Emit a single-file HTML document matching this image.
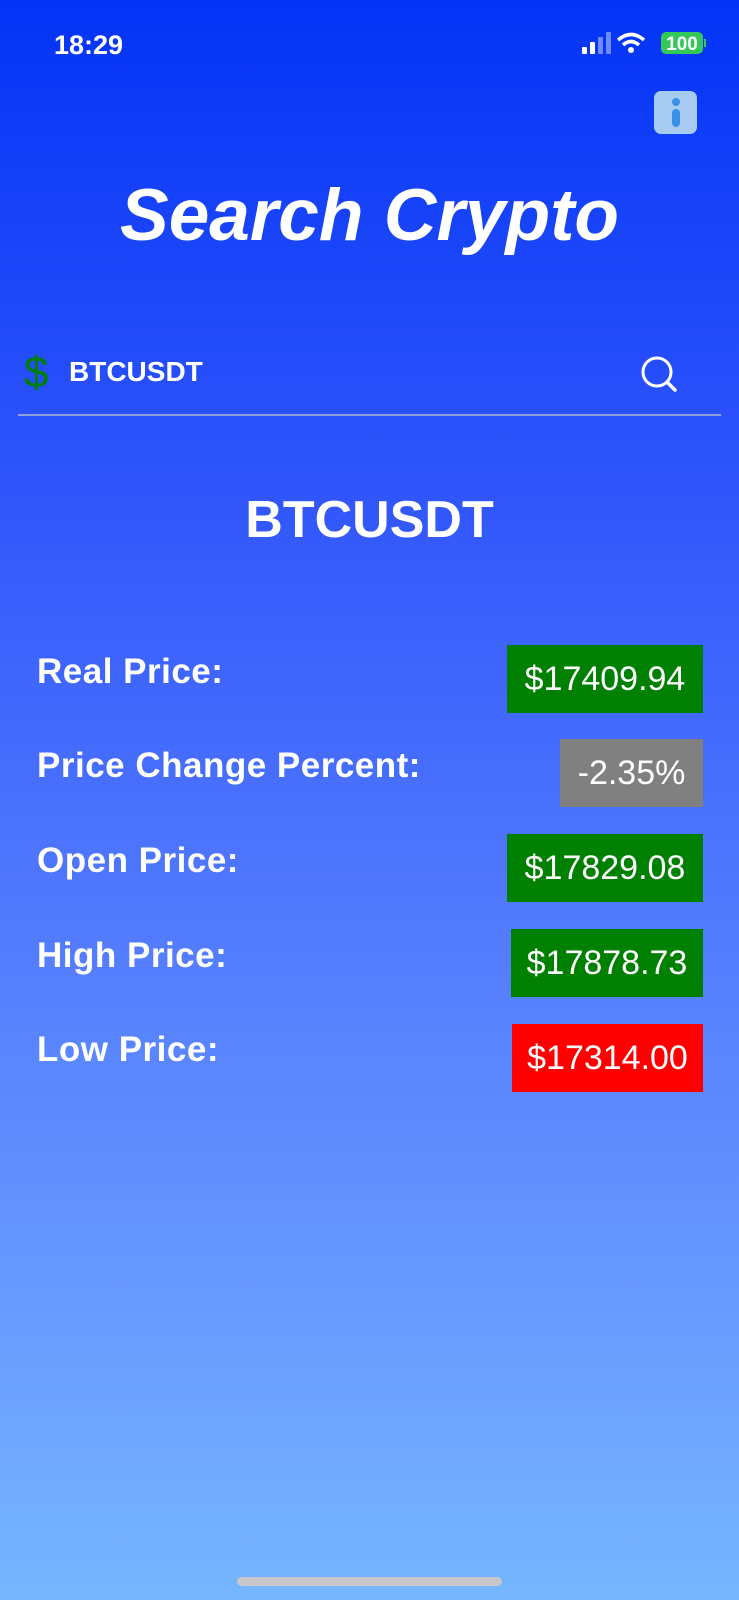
<!DOCTYPE html>
<html><head><meta charset="utf-8">
<style>
*{margin:0;padding:0;box-sizing:border-box}
body{width:739px;height:1600px;overflow:hidden;font-family:"Liberation Sans",sans-serif;color:#fff;
background:linear-gradient(180deg,#0333f6 0%,#2f55fb 30%,#4f77fd 55%,#6798ff 80%,#76b6ff 100%);position:relative}
.abs{position:absolute}
.label{position:absolute;left:37px;font-weight:bold;font-size:35px;line-height:36px;letter-spacing:0.5px}
.box{position:absolute;right:36px;height:68px;font-size:34px;line-height:68px;text-align:center;color:#fff;white-space:nowrap}
.g{background:#008000}.gr{background:#808080}.r{background:#ff0000}
</style></head>
<body>
<div class="abs" style="left:54px;top:30px;font-size:27px;font-weight:bold;">18:29</div>
<svg class="abs" style="left:580px;top:30px" width="130" height="30">
 <rect x="2" y="17" width="5" height="7" rx="1" fill="#fff"/>
 <rect x="10" y="12" width="5" height="12" rx="1" fill="#fff"/>
 <rect x="18" y="7" width="5" height="17" rx="1" fill="#6f8cff"/>
 <rect x="26" y="2" width="5" height="22" rx="1" fill="#6f8cff"/>
 <path d="M38 10 Q51 -1 64 10" stroke="#fff" stroke-width="3.5" fill="none"/>
 <path d="M43 15 Q51 8 59 15" stroke="#fff" stroke-width="3.5" fill="none"/>
 <circle cx="51" cy="20" r="3" fill="#fff"/>
 <rect x="81" y="2" width="42" height="22" rx="5" fill="#34c759"/>
 <rect x="124" y="9" width="2" height="8" fill="#34c759"/>
 <text x="102" y="20" font-size="19" font-weight="bold" fill="#fff" text-anchor="middle" font-family="Liberation Sans">100</text>
</svg>
<div class="abs" style="left:654px;top:91px;width:43px;height:43px;border-radius:7px;background:#a7cbf2">
 <div class="abs" style="left:18px;top:7px;width:8px;height:8px;border-radius:4px;background:#3a8fe8"></div>
 <div class="abs" style="left:18px;top:18px;width:8px;height:18px;border-radius:4px;background:#3a8fe8"></div>
</div>
<div class="abs" style="left:0;width:739px;top:174px;text-align:center;font-size:73px;font-weight:bold;font-style:italic;line-height:84px">Search Crypto</div>
<div class="abs" style="left:24px;top:348px;font-size:44px;color:#008000;line-height:50px">$</div>
<div class="abs" style="left:69px;top:355px;font-size:28px;font-weight:bold;line-height:34px">BTCUSDT</div>
<svg class="abs" style="left:640px;top:355px" width="40" height="40">
 <circle cx="17" cy="17" r="14" stroke="#fff" stroke-width="3" fill="none"/>
 <line x1="27" y1="27" x2="35" y2="35" stroke="#fff" stroke-width="3.5" stroke-linecap="round"/>
</svg>
<div class="abs" style="left:18px;top:414px;width:703px;height:2px;background:#8fa0d8"></div>
<div class="abs" style="left:0;width:739px;top:490px;text-align:center;font-size:52px;font-weight:bold;line-height:60px">BTCUSDT</div>

<div class="label" style="top:654px">Real Price:</div>
<div class="box g" style="top:645px;width:196px">$17409.94</div>
<div class="label" style="top:748px">Price Change Percent:</div>
<div class="box gr" style="top:739px;width:143px">-2.35%</div>
<div class="label" style="top:843px">Open Price:</div>
<div class="box g" style="top:834px;width:196px">$17829.08</div>
<div class="label" style="top:938px">High Price:</div>
<div class="box g" style="top:929px;width:192px">$17878.73</div>
<div class="label" style="top:1032px">Low Price:</div>
<div class="box r" style="top:1024px;width:191px">$17314.00</div>

<div class="abs" style="left:237px;top:1577px;width:265px;height:9px;border-radius:5px;background:#c8c8cc"></div>
</body></html>
